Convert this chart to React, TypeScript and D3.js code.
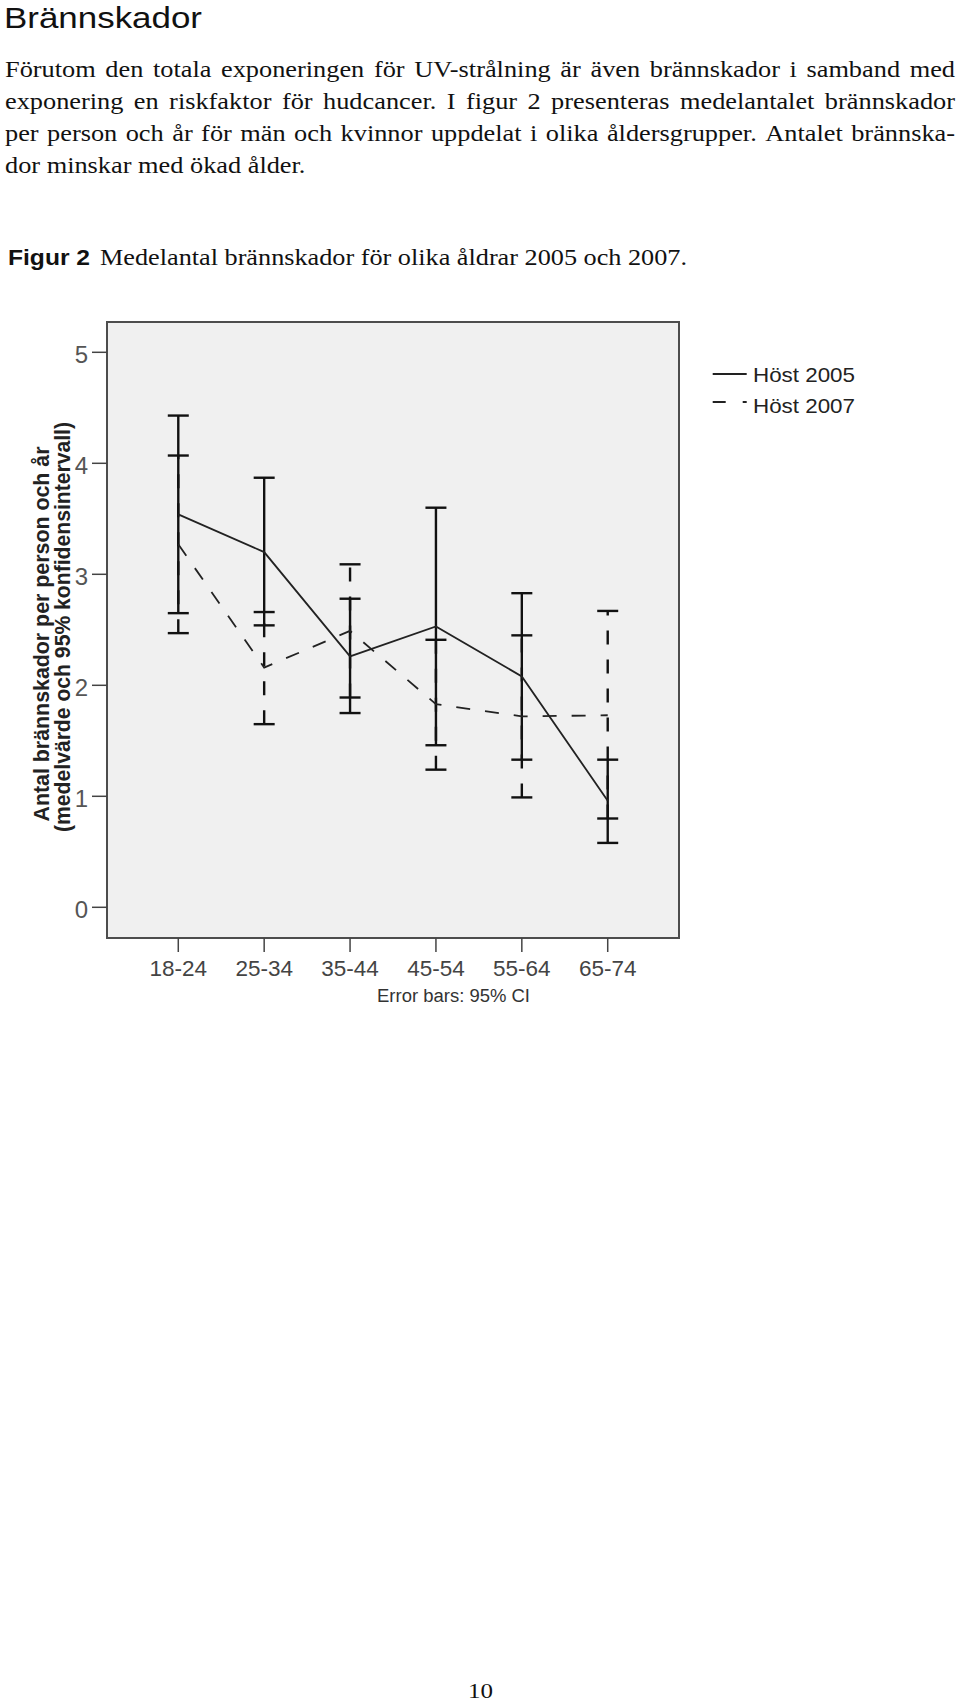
import React from "react";
import * as d3 from "d3";

// ---------- data ----------
const categories = ["18-24", "25-34", "35-44", "45-54", "55-64", "65-74"];
const mean2005 = [3.54, 3.2, 2.26, 2.53, 2.08, 0.96];
const lo2005 = [2.65, 2.54, 1.75, 1.46, 1.33, 0.58];
const hi2005 = [4.43, 3.87, 2.78, 3.6, 2.83, 1.33];
const mean2007 = [3.27, 2.16, 2.49, 1.83, 1.72, 1.73];
const lo2007 = [2.47, 1.65, 1.89, 1.24, 0.99, 0.8];
const hi2007 = [4.07, 2.66, 3.09, 2.41, 2.45, 2.67];
const yTicks = [0, 1, 2, 3, 4, 5];
const seriesNames = ["Höst 2005", "Höst 2007"];

const titleText = "Brännskador";
const bodyLines = [
  "Förutom den totala exponeringen för UV-strålning är även brännskador i samband med",
  "exponering en riskfaktor för hudcancer. I figur 2 presenteras medelantalet brännskador",
  "per person och år för män och kvinnor uppdelat i olika åldersgrupper. Antalet brännska-",
  "dor minskar med ökad ålder.",
];
const captionBold = "Figur 2";
const captionText = "Medelantal brännskador för olika åldrar 2005 och 2007.";
const yTitle1 = "Antal brännskador per person och år";
const yTitle2 = "(medelvärde och 95% konfidensintervall)";
const xNote = "Error bars: 95% CI";
const pageNumber = "10";

// ---------- styling ----------
const SERIF = "'Liberation Serif', 'Times New Roman', Times, serif";
const SANS = "'Liberation Sans', Arial, Helvetica, sans-serif";
const STRETCH = 1.17;
const BODY_SIZE = 22.5;

let ctx: CanvasRenderingContext2D | null = null;
function measure(t: string, font: string): number {
  if (!ctx && typeof document !== "undefined") {
    ctx = document.createElement("canvas").getContext("2d");
  }
  if (!ctx) return t.length * 10;
  ctx.font = font;
  return ctx.measureText(t).width;
}

function JustLine({ text, x, y, width, justify }: { text: string; x: number; y: number; width: number; justify: boolean }) {
  const font = `${BODY_SIZE}px ${SERIF}`;
  const words = text.split(" ");
  const widths = words.map((w) => measure(w, font) * STRETCH);
  const total = widths.reduce((a, b) => a + b, 0);
  const gap = justify && words.length > 1 ? (width - total) / (words.length - 1) : measure(" ", font) * STRETCH;
  let cx = x;
  return (
    <g>
      {words.map((w, i) => {
        const px = cx;
        cx += widths[i] + gap;
        return (
          <text key={i} x={px} y={y} fontFamily={SERIF} fontSize={BODY_SIZE} fill="#111" textLength={widths[i]} lengthAdjust="spacingAndGlyphs">
            {w}
          </text>
        );
      })}
    </g>
  );
}

export default function App() {
  const plot = { left: 107, top: 322, right: 679, bottom: 938 };
  const x = d3.scalePoint<string>().domain(categories).range([plot.left, plot.right]).padding(0.83);
  const y = d3.scaleLinear().domain([0, 5]).range([907.3, 352.3]);
  const line = d3
    .line<number>()
    .x((_, i) => x(categories[i]) as number)
    .y((d) => y(d));

  const capW = 10.5;
  const bars = (lo: number[], hi: number[], dashed: boolean, key: string) =>
    categories.map((c, i) => {
      const cx = x(c) as number;
      return (
        <g key={key + i} stroke="#111" strokeWidth={2.4} fill="none">
          <line x1={cx} x2={cx} y1={y(lo[i])} y2={y(hi[i])} strokeDasharray={dashed ? "14,15" : undefined} />
          <line x1={cx - capW} x2={cx + capW} y1={y(hi[i])} y2={y(hi[i])} />
          <line x1={cx - capW} x2={cx + capW} y1={y(lo[i])} y2={y(lo[i])} />
        </g>
      );
    });

  return (
    <svg width={960} height={1703} style={{ position: "absolute", left: 0, top: 0, background: "#fff" }}>
      {/* title */}
      <text x={4} y={28} fontFamily={SANS} fontSize={29.5} fill="#111" textLength={198} lengthAdjust="spacingAndGlyphs">
        {titleText}
      </text>
      {/* body */}
      {bodyLines.map((l, i) => (
        <JustLine key={i} text={l} x={5} y={76.5 + i * 32.2} width={950} justify={i < bodyLines.length - 1} />
      ))}
      {/* caption */}
      <text x={8} y={265} fontFamily={SANS} fontWeight="bold" fontSize={21.5} fill="#111" textLength={82} lengthAdjust="spacingAndGlyphs">
        {captionBold}
      </text>
      <text x={100} y={265} fontFamily={SERIF} fontSize={BODY_SIZE} fill="#111" textLength={587} lengthAdjust="spacingAndGlyphs">
        {captionText}
      </text>

      {/* chart */}
      <rect x={plot.left} y={plot.top} width={plot.right - plot.left} height={plot.bottom - plot.top} fill="#f0f0f0" stroke="#4d4d4d" strokeWidth={2} />
      {yTicks.map((t) => (
        <g key={"yt" + t}>
          <line x1={92} x2={plot.left} y1={y(t)} y2={y(t)} stroke="#444" strokeWidth={1.5} />
          <text x={88} y={y(t) + 10.5} textAnchor="end" fontFamily={SANS} fontSize={24} fill="#555">
            {t}
          </text>
        </g>
      ))}
      {categories.map((c) => (
        <g key={"xt" + c}>
          <line x1={x(c)} x2={x(c)} y1={plot.bottom} y2={plot.bottom + 14} stroke="#444" strokeWidth={1.5} />
          <text x={x(c)} y={976} textAnchor="middle" fontFamily={SANS} fontSize={22.5} fill="#444">
            {c}
          </text>
        </g>
      ))}
      <text x={377} y={1002} fontFamily={SANS} fontSize={18} fill="#333" textLength={153} lengthAdjust="spacingAndGlyphs">
        {xNote}
      </text>
      <text transform="translate(49,634) rotate(-90)" textAnchor="middle" fontFamily={SANS} fontWeight="bold" fontSize={21.5} fill="#222" textLength={375} lengthAdjust="spacingAndGlyphs">
        {yTitle1}
      </text>
      <text transform="translate(70,627) rotate(-90)" textAnchor="middle" fontFamily={SANS} fontWeight="bold" fontSize={21.5} fill="#222" textLength={410} lengthAdjust="spacingAndGlyphs">
        {yTitle2}
      </text>

      {bars(lo2007, hi2007, true, "b07")}
      {bars(lo2005, hi2005, false, "b05")}
      <path d={line(mean2007) || ""} fill="none" stroke="#222" strokeWidth={1.8} strokeDasharray="14,15" />
      <path d={line(mean2005) || ""} fill="none" stroke="#222" strokeWidth={1.8} />

      {/* legend */}
      <line x1={712.7} x2={746.7} y1={374} y2={374} stroke="#222" strokeWidth={1.8} />
      <text x={753} y={381.7} fontFamily={SANS} fontSize={21} fill="#222" textLength={102} lengthAdjust="spacingAndGlyphs">
        {seriesNames[0]}
      </text>
      <line x1={712.7} x2={746.7} y1={402} y2={402} stroke="#222" strokeWidth={1.8} strokeDasharray="13,17" />
      <text x={753} y={413.3} fontFamily={SANS} fontSize={21} fill="#222" textLength={102} lengthAdjust="spacingAndGlyphs">
        {seriesNames[1]}
      </text>

      {/* page number */}
      <text x={468} y={1698} fontFamily={SERIF} fontSize={22} fill="#111" textLength={25} lengthAdjust="spacingAndGlyphs">
        {pageNumber}
      </text>
    </svg>
  );
}
